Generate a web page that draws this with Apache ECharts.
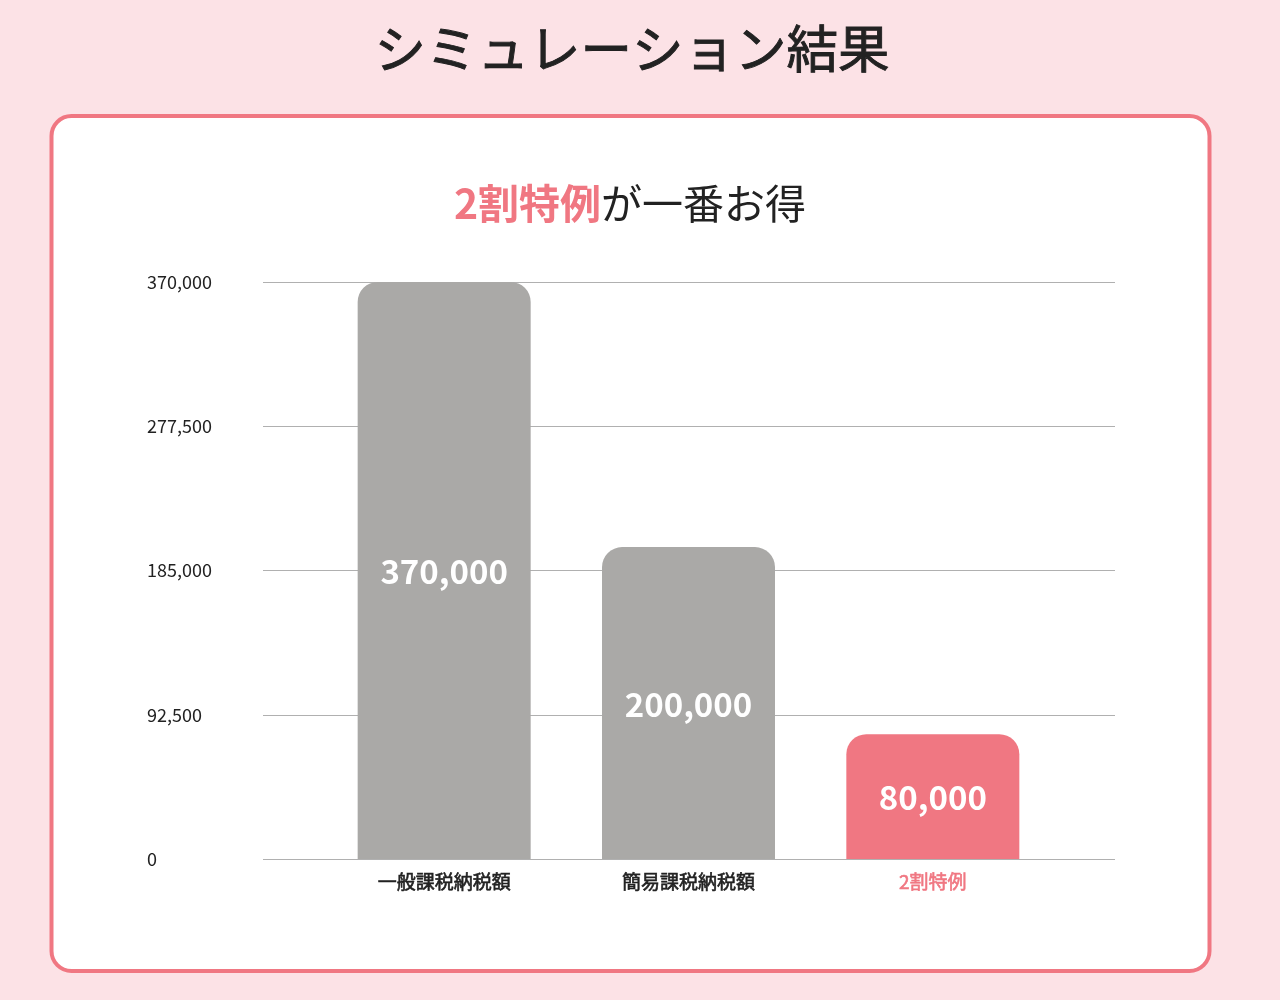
<!DOCTYPE html>
<html><head><meta charset="utf-8">
<script src="https://cdn.jsdelivr.net/npm/echarts@6/dist/echarts.min.js"></script>
<style>html,body{margin:0;padding:0;background:#fce2e6;}#c{width:1280px;height:1000px;}</style>
</head><body><div id="c"></div>
<script>
const categories = ['一般課税納税額', '簡易課税納税額', '2割特例'];
const values = [370000, 200000, 80000];
const yTicks = [0, 92500, 185000, 277500, 370000];
const highlightIndex = 2;

const FONT = '"Noto Sans CJK JP", "Noto Sans", sans-serif';
const PINK = '#f07782';
const GRAY = '#aaa9a7';
const yMax = yTicks[yTicks.length - 1];
const yInterval = yTicks[1] - yTicks[0];

const chart = echarts.init(document.getElementById('c'));
chart.setOption({
  backgroundColor: '#fce2e6',
  animation: false,
  graphic: [{
    type: 'rect', z: -10,
    shape: { x: 51.5, y: 116, width: 1158, height: 855, r: 20 },
    style: { fill: '#ffffff', stroke: PINK, lineWidth: 4 }
  }, {
    type: 'text', x: 632, y: 48,
    style: {
      text: 'シミュレーション結果', align: 'center', verticalAlign: 'middle',
      fontFamily: FONT, fontSize: 51.5, fontWeight: 'normal', fill: '#222222',
      stroke: '#222222', lineWidth: 0.9
    }
  }, {
    type: 'text', x: 630, y: 203,
    style: {
      text: '{a|2割特例}{b|が一番お得}', align: 'center', verticalAlign: 'middle',
      rich: {
        a: { fontFamily: FONT, fontSize: 41, fontWeight: 'bold', fill: PINK },
        b: { fontFamily: FONT, fontSize: 41, fontWeight: 'normal', fill: '#222222' }
      }
    }
  }],
  grid: [
    { left: 263, right: 165, top: 282, bottom: 141 },
    { left: 322, right: 225, top: 282, bottom: 141 }
  ],
  xAxis: [
    { gridIndex: 0, type: 'category', data: [''], show: false },
    {
      gridIndex: 1, type: 'category', data: categories,
      axisLine: { show: false }, axisTick: { show: false },
      axisLabel: {
        margin: 13,
        formatter: function (v, i) { return (i === highlightIndex ? '{h|' : '{n|') + v + '}'; },
        rich: {
          n: { fontFamily: FONT, fontSize: 19, fontWeight: 'normal', color: '#222222',
               textBorderColor: '#222222', textBorderWidth: 0.6 },
          h: { fontFamily: FONT, fontSize: 19, fontWeight: 'normal', color: PINK,
               textBorderColor: PINK, textBorderWidth: 0.6 }
        }
      }
    }
  ],
  yAxis: [
    {
      gridIndex: 0, type: 'value', min: 0, max: yMax, interval: yInterval,
      axisLine: { show: false }, axisTick: { show: false },
      splitLine: { lineStyle: { color: '#b0b0b0', width: 1 } },
      axisLabel: {
        align: 'left', margin: 116,
        fontFamily: FONT, fontSize: 18, color: '#222222',
        formatter: function (v) { return v.toLocaleString('en-US'); }
      }
    },
    {
      gridIndex: 1, type: 'value', min: 0, max: yMax, interval: yInterval,
      show: false, splitLine: { show: false }
    }
  ],
  series: [{
    type: 'bar', xAxisIndex: 1, yAxisIndex: 1,
    barWidth: 173,
    data: values.map(function (v, i) {
      return { value: v, itemStyle: { color: i === highlightIndex ? PINK : GRAY } };
    }),
    itemStyle: { borderRadius: [20, 20, 0, 0] },
    label: {
      show: true, position: 'inside', offset: [0, 1],
      fontFamily: FONT, fontSize: 33, fontWeight: 'bold', color: '#ffffff',
      formatter: function (p) { return p.value.toLocaleString('en-US'); }
    }
  }]
});
</script></body></html>
